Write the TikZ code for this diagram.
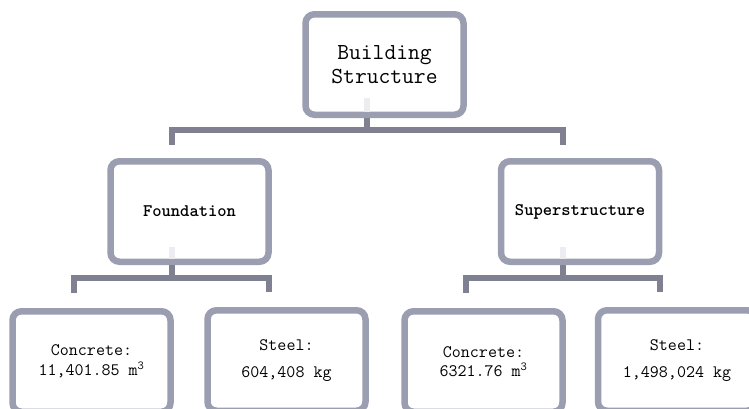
\documentclass[tikz,border=0pt]{standalone}
\definecolor{boxgray}{RGB}{155,157,176}
\definecolor{bargray}{RGB}{127,129,144}
\definecolor{stubgray}{RGB}{236,236,241}
\tikzset{
  box/.style={draw=boxgray, line width=6.5pt, rounded corners=9pt,
    minimum width=158pt, minimum height=100.5pt, align=center},
  bar/.style={draw=bargray, line width=6pt},
  stub/.style={draw=stubgray, line width=6pt},
}
\newcommand{\busoff}{-17.5pt}
\newcommand{\cubm}{m\textsuperscript{3}}
\begin{document}
\begin{tikzpicture}[x=1pt,y=-1pt]
  \useasboundingbox (0,0) rectangle (749,408);
  \clip (0,0) rectangle (749,408);
  % boxes
  \node[box, font=\ttfamily\fontsize{22.9}{24}\selectfont] (bldg) at (384.5,64.5) {Building\\Structure};
  \node[box, font=\ttfamily\bfseries\fontsize{17.7}{20}\selectfont] (found) at (189.5,211.5) {Foundation};
  \node[box, font=\ttfamily\bfseries\fontsize{17.7}{20}\selectfont] (super) at (580,211.5) {Superstructure};
  \node[box, font=\ttfamily\fontsize{17.5}{19.5}\selectfont] (fconc) at (91.5,361.5) {Concrete:\\11,401.85 \cubm};
  \node[box, font=\ttfamily\fontsize{17.5}{27}\selectfont] (fsteel) at (286.5,360.5) {Steel:\\604,408 kg};
  \node[box, font=\ttfamily\fontsize{17.5}{19.5}\selectfont] (sconc) at (483.5,361.5) {Concrete:\\6321.76 \cubm};
  \node[box, font=\ttfamily\fontsize{17.5}{27}\selectfont] (ssteel) at (677,360.5) {Steel:\\1,498,024 kg};
  % top level
  \draw[stub] ([xshift=\busoff,yshift=20pt]bldg.south) -- ([xshift=\busoff,yshift=6.5pt]bldg.south);
  \draw[bar] ([xshift=\busoff]bldg.south) -- ([xshift=\busoff,yshift=-12pt]bldg.south);
  \draw[bar] ([xshift=\busoff,yshift=13pt]found.north) |- ([xshift=\busoff,yshift=-12pt]bldg.south)
    -| ([xshift=\busoff,yshift=13pt]super.north);
  % foundation
  \draw[stub] ([xshift=\busoff,yshift=18pt]found.south) -- ([xshift=\busoff,yshift=6.5pt]found.south);
  \draw[bar] ([xshift=\busoff]found.south) -- ([xshift=\busoff,yshift=-13pt]found.south);
  \draw[bar] ([xshift=\busoff,yshift=15pt]fconc.north) |- ([xshift=\busoff,yshift=-13pt]found.south)
    -| ([xshift=\busoff,yshift=15pt]fsteel.north);
  % superstructure
  \draw[stub] ([xshift=\busoff,yshift=18pt]super.south) -- ([xshift=\busoff,yshift=6.5pt]super.south);
  \draw[bar] ([xshift=\busoff]super.south) -- ([xshift=\busoff,yshift=-13pt]super.south);
  \draw[bar] ([xshift=\busoff,yshift=15pt]sconc.north) |- ([xshift=\busoff,yshift=-13pt]super.south)
    -| ([xshift=\busoff,yshift=15pt]ssteel.north);
\end{tikzpicture}
\end{document}
